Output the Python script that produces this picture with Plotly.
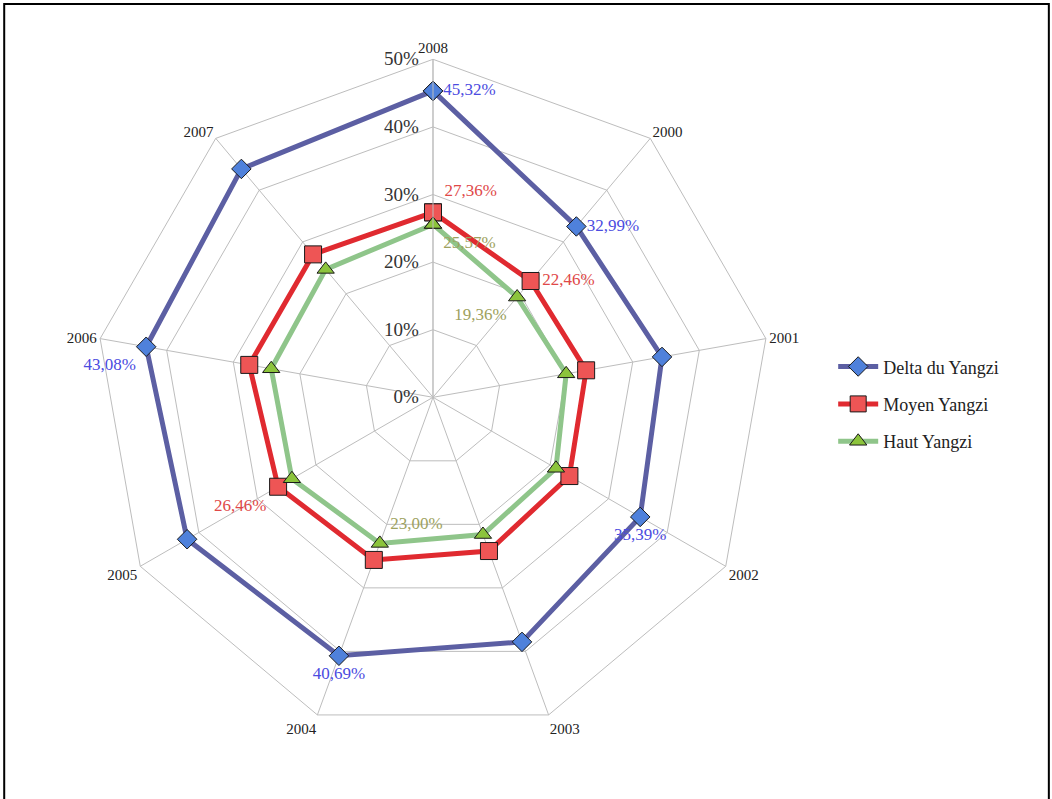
import plotly.graph_objects as go

categories = ["2008", "2000", "2001", "2002", "2003", "2004", "2005", "2006", "2007"]
delta = [45.32, 32.99, 34.4, 35.39, 38.5, 40.69, 42.0, 43.08, 44.1]
moyen = [27.36, 22.46, 23.0, 23.3, 24.2, 25.6, 26.46, 27.6, 27.6]
haut = [25.57, 19.36, 20.0, 21.0, 21.6, 23.00, 24.1, 24.3, 24.7]
series_names = ["Delta du Yangzi", "Moyen Yangzi", "Haut Yangzi"]
radial_ticks = [0, 10, 20, 30, 40, 50]

# which points carry a data label
delta_labeled = ["2008", "2000", "2002", "2004", "2006"]
moyen_labeled = ["2008", "2000", "2005"]
haut_labeled = ["2008", "2000", "2004"]

delta_pos = {"2008": "middle right", "2000": "middle right", "2002": "bottom center",
             "2004": "bottom center", "2006": "bottom left"}
moyen_pos = {"2008": "top right", "2000": "middle right", "2005": "bottom left"}
haut_pos = {"2008": "bottom right", "2000": "bottom left", "2004": "top right"}


def fmt(v):
    return f"{v:.2f}%".replace(".", ",")


def labels(vals, labeled):
    return [fmt(v) if c in labeled else "" for c, v in zip(categories, vals)]


def positions(posmap):
    return [posmap.get(c, "middle right") for c in categories]


def closed(lst):
    return list(lst) + [lst[0]]


FONT = "Liberation Serif"

fig = go.Figure()

specs = [
    (delta, series_names[0], "#5C5FA3", "#4F81DB", "diamond", 15, "#4B4BE0", delta_labeled, delta_pos),
    (moyen, series_names[1], "#E02A30", "#EE5555", "square", 17, "#E04848", moyen_labeled, moyen_pos),
    (haut, series_names[2], "#8FC58A", "#8CC43C", "triangle-up", 15, "#9EA260", haut_labeled, haut_pos),
]

for i, (vals, name, lcol, mcol, sym, msize, tcol, labeled, posmap) in enumerate(specs):
    fig.add_trace(go.Scatterpolar(
        r=closed(vals),
        theta=closed(categories),
        name=name,
        legendgroup=f"g{i}",
        mode="lines+markers+text",
        text=labels(vals, labeled) + [""],
        textposition=closed(positions(posmap)),
        textfont=dict(family=FONT, size=17, color=tcol),
        line=dict(color=lcol, width=5),
        marker=dict(symbol=sym, size=msize, color=mcol,
                    line=dict(color="#1a1a1a", width=1)),
        cliponaxis=False,
    ))

fig.update_layout(
    width=1052,
    height=799,
    margin=dict(l=0, r=0, t=0, b=0),
    paper_bgcolor="white",
    plot_bgcolor="white",
    showlegend=True,
    legend=dict(
        x=0.792, y=0.494, xanchor="left", yanchor="middle",
        font=dict(family=FONT, size=18, color="#222222"),
        bgcolor="rgba(0,0,0,0)",
        itemwidth=40,
        tracegroupgap=11,
    ),
    polar=dict(
        domain=dict(x=[0.0903, 0.7329], y=[0.0797, 0.9258]),
        bgcolor="white",
        gridshape="linear",
        angularaxis=dict(
            direction="clockwise",
            rotation=90,
            categoryorder="array",
            categoryarray=categories,
            tickfont=dict(family=FONT, size=15, color="#222222"),
            gridcolor="#BDBDBD",
            gridwidth=1,
            linecolor="#BDBDBD",
            linewidth=1,
            ticks="",
        ),
        radialaxis=dict(
            range=[0, 50],
            tickvals=radial_ticks,
            ticktext=[f"{t}%" for t in radial_ticks],
            angle=90,
            tickangle=90,
            side="counterclockwise",
            tickfont=dict(family=FONT, size=19, color="#333333"),
            gridcolor="#BDBDBD",
            gridwidth=1,
            linecolor="#BDBDBD",
            linewidth=1,
            showline=True,
            ticks="outside",
            ticklen=7,
            tickcolor="rgba(0,0,0,0)",
        ),
    ),
    shapes=[dict(type="rect", xref="paper", yref="paper",
                 x0=0.004, x1=0.997, y0=-0.05, y1=0.995,
                 line=dict(color="black", width=2))],
)

fig.write_html("out.html", config={"displayModeBar": False},
               post_script="document.body.style.margin='0';")
